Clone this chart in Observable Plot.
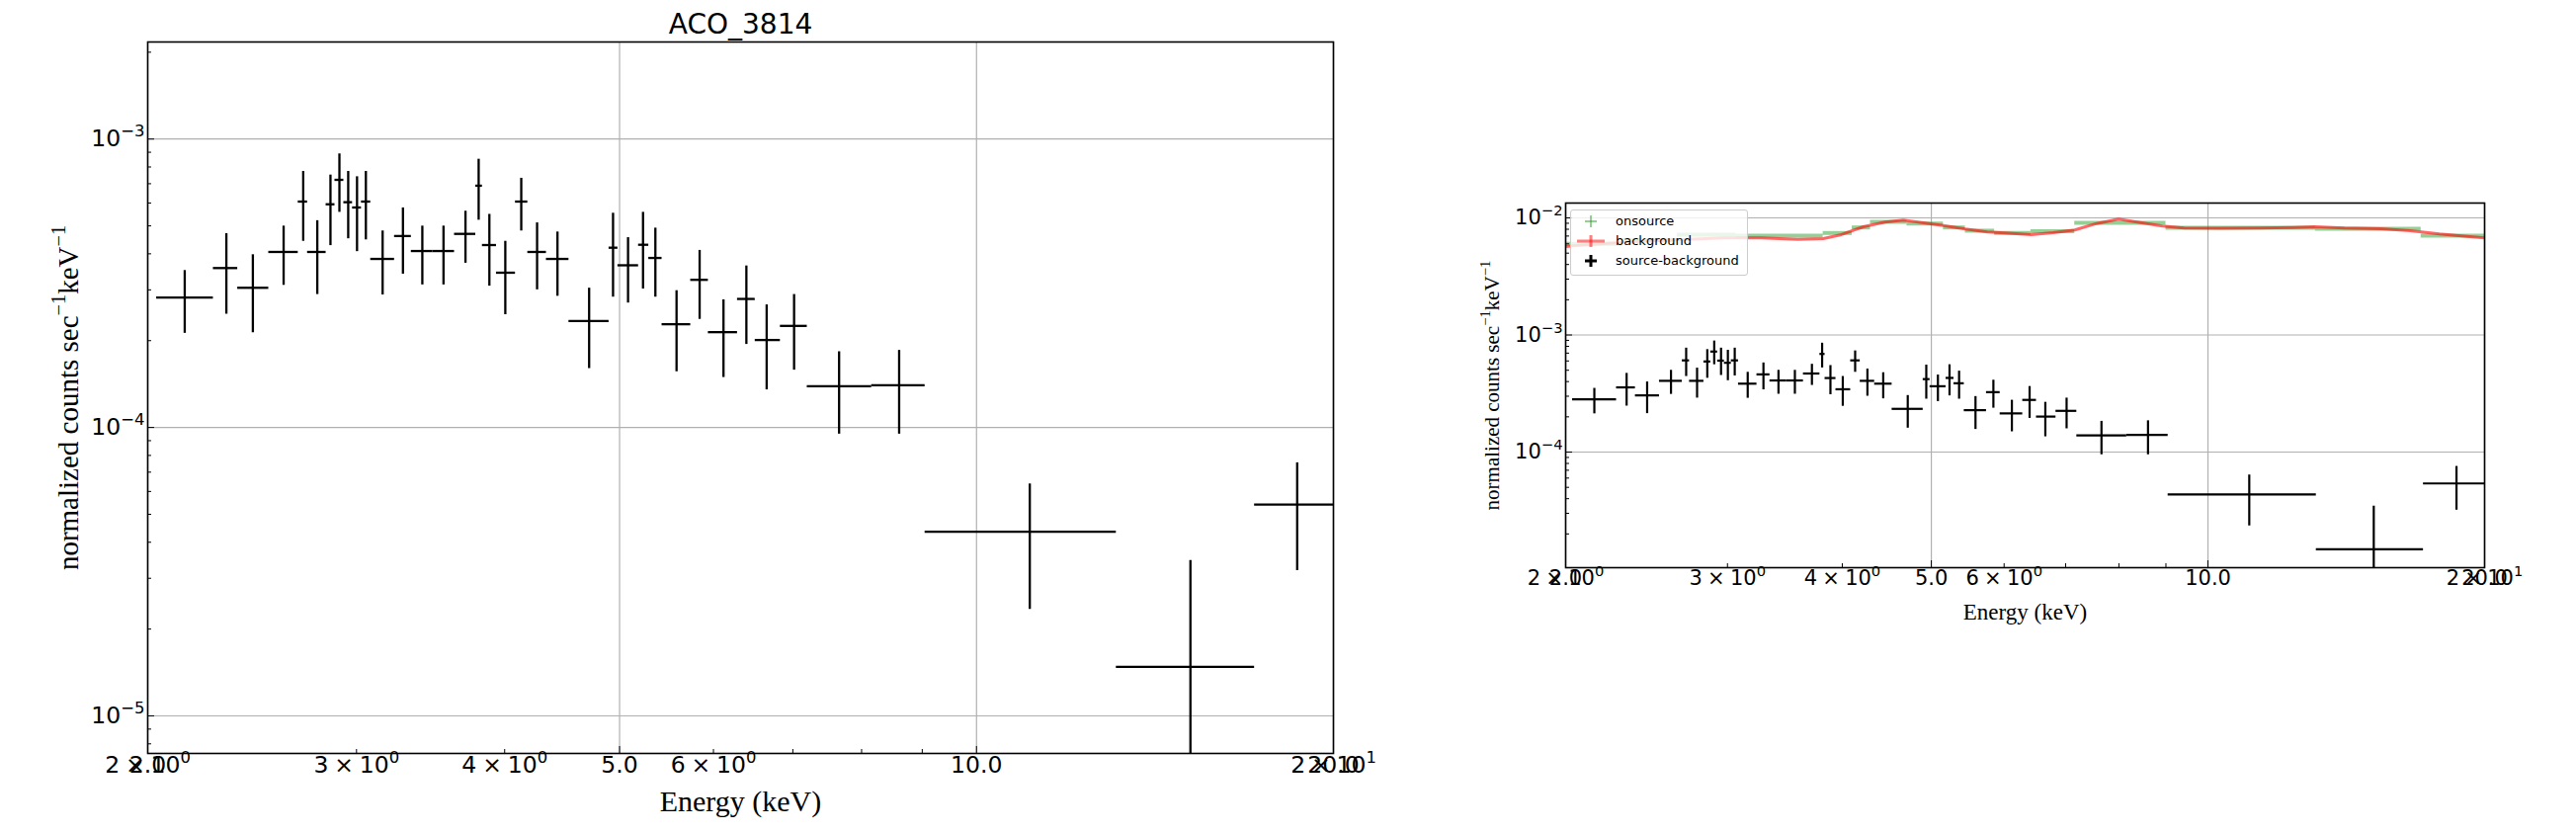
<!DOCTYPE html>
<html><head><meta charset="utf-8">
<script src="https://cdn.jsdelivr.net/npm/d3@7"></script>
<script src="https://cdn.jsdelivr.net/npm/@observablehq/plot@0.6"></script>
<style>
html,body{margin:0;padding:0;background:#fff;}
#page{position:relative;width:2607px;height:842px;overflow:hidden;background:#fff;}
.panel{position:absolute;top:0;}
#legend{position:absolute;left:1589px;top:212px;width:178px;height:65px;background:rgba(255,255,255,0.8);border:1.5px solid #cccccc;border-radius:3px;font-family:"DejaVu Sans";font-size:13px;color:#000;}
#legend .row{position:absolute;left:45px;line-height:16px;}
</style></head><body><div id="page"></div>
<script>
// ---- source - background spectrum (energy bins in keV, normalized counts/s/keV)
const srcELo  = [2.035,2.272,2.382,2.530,2.679,2.728,2.828,2.877,2.927,2.977,3.029,3.084,3.230,3.337,3.480,3.629,3.782,3.831,3.937,4.085,4.184,4.338,4.532,4.899,4.984,5.188,5.292,5.430,5.741,5.941,6.287,6.507,6.833,7.199,8.158,9.050,13.12,17.16];
const srcEHi  = [2.272,2.382,2.530,2.679,2.728,2.828,2.877,2.927,2.977,3.029,3.084,3.230,3.337,3.480,3.629,3.782,3.831,3.937,4.085,4.184,4.338,4.532,4.899,4.984,5.188,5.292,5.430,5.741,5.941,6.287,6.507,6.833,7.199,8.158,9.050,13.12,17.16,20.10];
const srcE    = [2.149,2.330,2.453,2.604,2.705,2.780,2.852,2.902,2.952,3.003,3.055,3.156,3.283,3.409,3.552,3.707,3.803,3.883,4.005,4.131,4.260,4.432,4.713,4.937,5.083,5.233,5.360,5.585,5.841,6.118,6.396,6.653,7.017,7.658,8.605,11.09,15.15,18.64];
const srcRate = [2.82e-4,3.57e-4,3.05e-4,4.06e-4,6.07e-4,4.06e-4,5.94e-4,7.22e-4,6.04e-4,5.79e-4,6.07e-4,3.84e-4,4.61e-4,4.09e-4,4.09e-4,4.69e-4,6.89e-4,4.29e-4,3.44e-4,6.07e-4,4.06e-4,3.84e-4,2.34e-4,4.20e-4,3.65e-4,4.30e-4,3.87e-4,2.28e-4,3.25e-4,2.14e-4,2.79e-4,2.01e-4,2.25e-4,1.39e-4,1.40e-4,4.35e-5,1.48e-5,5.40e-5];
const srcHi   = [3.50e-4,4.70e-4,3.97e-4,4.99e-4,7.72e-4,5.21e-4,7.50e-4,8.88e-4,7.72e-4,7.40e-4,7.72e-4,4.80e-4,5.77e-4,4.99e-4,4.99e-4,5.62e-4,8.51e-4,5.48e-4,4.42e-4,7.31e-4,5.12e-4,4.76e-4,3.04e-4,5.53e-4,4.55e-4,5.57e-4,4.91e-4,2.98e-4,4.11e-4,2.77e-4,3.63e-4,2.66e-4,2.89e-4,1.83e-4,1.85e-4,6.37e-5,3.46e-5,7.54e-5];
const srcLo   = [2.12e-4,2.47e-4,2.13e-4,3.11e-4,4.42e-4,2.89e-4,4.27e-4,5.57e-4,4.51e-4,4.07e-4,4.47e-4,2.88e-4,3.40e-4,3.12e-4,3.12e-4,3.71e-4,5.23e-4,3.09e-4,2.46e-4,4.80e-4,3.00e-4,2.85e-4,1.60e-4,2.83e-4,2.70e-4,3.02e-4,2.83e-4,1.56e-4,2.37e-4,1.49e-4,1.94e-4,1.35e-4,1.58e-4,9.48e-5,9.48e-5,2.34e-5,1e-8,3.19e-5];

// ---- background spectrum
const bgE    = [2.0,2.105,2.264,2.482,2.719,2.979,3.264,3.576,3.813,3.991,4.216,4.453,4.661,4.879,5.154,5.445,5.752,6.076,6.418,6.780,7.162,7.566,7.993,8.443,8.920,9.423,10.32,11.31,12.39,13.09,14.08,15.43,16.60,17.86,18.87,20.0];
const bgRate = [5.70e-3,5.89e-3,6.12e-3,6.37e-3,6.57e-3,6.75e-3,6.75e-3,6.57e-3,6.66e-3,7.20e-3,8.40e-3,9.20e-3,9.56e-3,9.14e-3,8.62e-3,8.03e-3,7.58e-3,7.39e-3,7.20e-3,7.48e-3,7.88e-3,8.96e-3,9.75e-3,9.14e-3,8.51e-3,8.19e-3,8.14e-3,8.19e-3,8.29e-3,8.40e-3,8.19e-3,8.08e-3,7.78e-3,7.29e-3,7.01e-3,6.75e-3];

// ---- on-source spectrum (binned)
const onELo  = [2.0,2.307,2.645,3.067,3.813,4.101,4.293,4.704,5.154,5.445,5.859,6.418,7.162,9.000,13.09,17.06];
const onEHi  = [2.307,2.645,3.067,3.813,4.101,4.293,4.704,5.154,5.445,5.859,6.418,7.162,9.000,13.09,17.06,20.0];
const onRate = [6.01e-3,6.49e-3,7.20e-3,7.06e-3,7.43e-3,8.29e-3,9.26e-3,8.96e-3,8.29e-3,7.78e-3,7.43e-3,7.68e-3,9.08e-3,8.24e-3,8.08e-3,7.06e-3];

// ---- ticks
const xMajor = [2,5,10,20];
const xMinor = [3,4,6,7,8,9];
const xSciTicks = [2,3,4,6,20];

const title = "ACO_3814";
const xLabel = "Energy (keV)";
const yLabel = "normalized counts sec^{\u22121}keV^{\u22121}";

const src = srcE.map((e,i)=>({e, lo:srcELo[i], hi:srcEHi[i], r:srcRate[i], rlo:srcLo[i], rhi:srcHi[i]}));
const bg = bgE.map((e,i)=>({e, r:bgRate[i]}));
const on = onRate.map((r,i)=>({lo:onELo[i], hi:onEHi[i], r}));

const yFmt = d => "10^{" + String(Math.round(Math.log10(d))).replace("-","\u2212") + "}";
const xSciFmt = d => { const e = Math.floor(Math.log10(d)+1e-9); const m = Math.round(d/10**e); return m + "\u2005\u00D7\u200510^{" + e + "}"; };
const xDecFmt = d => d.toFixed(1);

function decadesIn(lo, hi){ const r=[]; for(let k=-8;k<=0;k++){ const v=10**k; if(v>=lo*0.999 && v<=hi*1.001) r.push(v);} return r; }
function minorsIn(lo, hi){ const r=[]; for(let k=-8;k<=0;k++){ for(let m=2;m<=9;m++){ const v=m*10**k; if(v>=lo && v<=hi) r.push(v);} } return r; }

// turn "a^{b}c" into tspans with a raised, smaller b
function applySup(svg){
  svg.querySelectorAll("text").forEach(t=>{
    const s = t.textContent;
    if (!s.includes("^{")) return;
    const parts = s.split(/\^\{([^}]*)\}/);
    while (t.firstChild) t.removeChild(t.firstChild);
    let raised = false;
    parts.forEach((p,i)=>{
      if (p === "") return;
      const ts = document.createElementNS("http://www.w3.org/2000/svg","tspan");
      ts.textContent = p;
      if (i % 2 === 1) { ts.setAttribute("font-size","70%"); ts.setAttribute("dy","-0.62em"); raised = true; }
      else if (raised) { ts.setAttribute("dy","0.43em"); raised = false; }
      t.appendChild(ts);
    });
  });
}

function panel({width, height, mL, mR, mT, mB, yDomain, tickFont, labelFont, xLabelFont, yLabelDx, xLabelDy, withBg, withTitle, crossW}) {
  const yMajor = decadesIn(yDomain[0], yDomain[1]);
  const yMinor = minorsIn(yDomain[0], yDomain[1]);
  const marks = [
    Plot.gridX(xMajor, {stroke:"#b0b0b0", strokeOpacity:1, strokeWidth:1.2}),
    Plot.gridY(yMajor, {stroke:"#b0b0b0", strokeOpacity:1, strokeWidth:1.2}),
  ];
  if (withBg) {
    marks.push(Plot.ruleY(on, {y:"r", x1:"lo", x2:"hi", stroke:"#2ca02c", strokeOpacity:0.5, strokeWidth:4, clip:true}));
    marks.push(Plot.line(bg, {x:"e", y:"r", stroke:"red", strokeOpacity:0.6, strokeWidth:3, clip:true}));
  }
  marks.push(
    Plot.ruleY(src, {y:"r", x1:"lo", x2:"hi", stroke:"black", strokeWidth:crossW, clip:true}),
    Plot.ruleX(src, {x:"e", y1:"rlo", y2:"rhi", stroke:"black", strokeWidth:crossW, clip:true}),
    Plot.frame({stroke:"black", strokeWidth:1.6}),
    // inward ticks
    Plot.axisX(xMajor, {anchor:"bottom", tickSize:7, dy:-7, fill:"none", stroke:"black", label:null}),
    Plot.axisX(xMinor, {anchor:"bottom", tickSize:4, dy:-4, fill:"none", stroke:"black", label:null}),
    Plot.axisY(yMajor, {anchor:"left", tickSize:7, dx:7, fill:"none", stroke:"black", label:null}),
    Plot.axisY(yMinor, {anchor:"left", tickSize:4, dx:4, fill:"none", stroke:"black", label:null}),
    // tick labels
    Plot.axisX(xMajor, {anchor:"bottom", tickSize:0, tickPadding:3, tickFormat:xDecFmt, fontSize:tickFont, fontFamily:"DejaVu Sans", fill:"black", label:null}),
    Plot.axisX(xSciTicks, {anchor:"bottom", tickSize:0, tickPadding:3, tickFormat:xSciFmt, fontSize:tickFont, fontFamily:"DejaVu Sans", fill:"black", label:null}),
    Plot.axisY(yMajor, {anchor:"left", tickSize:0, tickPadding:3, tickFormat:yFmt, fontSize:tickFont, fontFamily:"DejaVu Sans", fill:"black", label:null}),
    // axis labels
    Plot.text([xLabel], {text:d=>d, frameAnchor:"bottom", textAnchor:"middle", lineAnchor:"bottom", dy:xLabelDy, fontSize:xLabelFont, fontFamily:"Liberation Serif", fill:"black"}),
    Plot.text([yLabel], {text:d=>d, frameAnchor:"left", textAnchor:"middle", dx:yLabelDx, rotate:-90, fontSize:labelFont, fontFamily:"Liberation Serif", fill:"black"})
  );
  if (withTitle) marks.push(Plot.text([title], {text:d=>d, frameAnchor:"top", textAnchor:"middle", lineAnchor:"bottom", dy:-9, fontSize:28, fontFamily:"DejaVu Sans", fill:"black"}));
  const svg = Plot.plot({
    width, height, marginLeft:mL, marginRight:mR, marginTop:mT, marginBottom:mB,
    style:{background:"transparent", overflow:"visible"},
    x:{type:"log", domain:[2,20]},
    y:{type:"log", domain:yDomain},
    marks
  });
  applySup(svg);
  return svg;
}

const page = document.getElementById("page");
const left = panel({width:1400, height:842, mL:149, mR:51, mT:42, mB:80, yDomain:[7.41e-6,2.17e-3], tickFont:23.5, labelFont:29, xLabelFont:30, yLabelDx:-80, xLabelDy:58, withBg:false, withTitle:true, crossW:2.3});
left.classList.add("panel"); left.style.left="0px";
page.appendChild(left);
const right = panel({width:1207, height:842, mL:184, mR:93, mT:205, mB:268, yDomain:[1.03e-5,1.339e-2], tickFont:21, labelFont:21, xLabelFont:23, yLabelDx:-74, xLabelDy:52, withBg:true, withTitle:false, crossW:2.2});
right.classList.add("panel"); right.style.left="1400px";
page.appendChild(right);

// legend
const lg = document.createElement("div");
lg.id = "legend";
lg.innerHTML = `<svg width="178" height="65" style="position:absolute;left:0;top:0">
 <g stroke="#2ca02c" stroke-opacity="0.5" stroke-width="2"><line x1="14" x2="26" y1="11" y2="11"/><line x1="20" x2="20" y1="5" y2="17"/></g>
 <g stroke="red" stroke-opacity="0.5" stroke-width="3"><line x1="6" x2="34" y1="31" y2="31"/><line x1="20" x2="20" y1="25" y2="37"/></g>
 <g stroke="black" stroke-width="3"><line x1="14" x2="26" y1="51" y2="51"/><line x1="20" x2="20" y1="45" y2="57"/></g>
</svg>
<div class="row" style="top:3px">onsource</div>
<div class="row" style="top:23px">background</div>
<div class="row" style="top:43px">source-background</div>`;
page.appendChild(lg);
</script>
</body></html>
